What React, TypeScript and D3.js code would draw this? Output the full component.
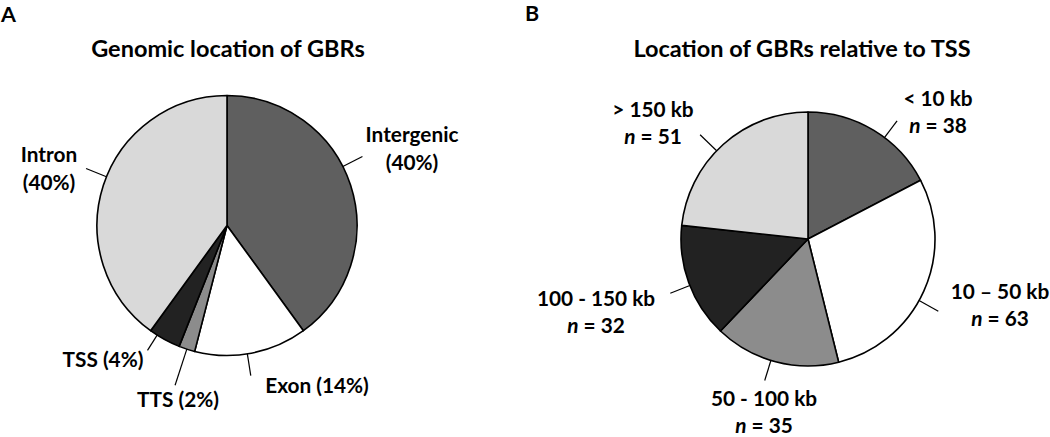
import React from 'react';
import * as d3 from 'd3';

// panel A: genomic location of GBRs (percent)
const genomicCategories = ['Intergenic', 'Exon', 'TTS', 'TSS', 'Intron'];
const genomicPercent = [40, 14, 2, 4, 40];

// panel B: location relative to TSS (counts)
const tssCategories = ['< 10 kb', '10 \u2013 50 kb', '50 - 100 kb', '100 - 150 kb', '> 150 kb'];
const tssCounts = [38, 63, 35, 32, 51];

const sliceFills = ['#5f5f5f', '#ffffff', '#8c8c8c', '#222222', '#d9d9d9'];

const FONT = 'Lato, "Open Sans", sans-serif';

// hand placed label layout (leader angle in degrees, outer radius, text centre and baseline)
const layoutA = [
  { a: 63, r2: 152, x: 412, y: 142, twoLines: true },
  { a: 171, r2: 152, x: 317, y: 393, twoLines: false },
  { a: 198, r2: 168, x: 178, y: 407, twoLines: false },
  { a: 212.5, r2: 148, x: 103, y: 367, twoLines: false },
  { a: 292, r2: 152, x: 49, y: 162, twoLines: true },
];

const layoutB = [
  { a: 37, r2: 148, x: 938, y: 106 },
  { a: 119, r2: 149, x: 1000, y: 299 },
  { a: 197, r2: 148, x: 764, y: 406 },
  { a: 248.5, r2: 148, x: 596, y: 306 },
  { a: 314, r2: 150, x: 653, y: 117 },
];

const polar = (deg: number, r: number) => {
  const t = (deg * Math.PI) / 180;
  return [r * Math.sin(t), -r * Math.cos(t)];
};

const Pie = ({ values, cx, cy, r }: { values: number[]; cx: number; cy: number; r: number }) => {
  const pie = d3.pie<number>().sort(null).value((d) => d);
  const arc = d3.arc<d3.PieArcDatum<number>>().innerRadius(0).outerRadius(r);
  return (
    <g transform={`translate(${cx},${cy})`}>
      {pie(values).map((s, i) => (
        <path key={i} d={arc(s) || ''} fill={sliceFills[i]} stroke="#000" strokeWidth={1.6} strokeLinejoin="round" />
      ))}
    </g>
  );
};

const Leader = ({ cx, cy, r, a, r2 }: { cx: number; cy: number; r: number; a: number; r2: number }) => {
  const [x1, y1] = polar(a, r);
  const [x2, y2] = polar(a, r2);
  return <line x1={cx + x1} y1={cy + y1} x2={cx + x2} y2={cy + y2} stroke="#000" strokeWidth={1.2} />;
};

export default function App() {
  const ax = 227, ay = 225.5, ar = 130;
  const bx = 808, by = 239, br = 127;
  const labelSize = 20.8;
  return (
    <svg width={1050} height={437} style={{ position: 'absolute', left: 0, top: 0, background: '#fff' }}
      fontFamily={FONT} fontWeight="bold">
      <rect width={1050} height={437} fill="#fff" />
      <text x={1} y={22} fontSize={21.5}>A</text>
      <text x={525} y={21} fontSize={21.5}>B</text>
      <text x={228} y={57} fontSize={23.5} textAnchor="middle">Genomic location of GBRs</text>
      <text x={802} y={57} fontSize={23.5} textAnchor="middle">Location of GBRs relative to TSS</text>

      <Pie values={genomicPercent} cx={ax} cy={ay} r={ar} />
      {genomicCategories.map((c, i) => {
        const l = layoutA[i];
        const pct = `(${genomicPercent[i]}%)`;
        return (
          <g key={c}>
            <Leader cx={ax} cy={ay} r={ar} a={l.a} r2={l.r2} />
            {l.twoLines ? (
              <text x={l.x} y={l.y} fontSize={labelSize} textAnchor="middle">
                <tspan x={l.x}>{c}</tspan>
                <tspan x={l.x} dy={28}>{pct}</tspan>
              </text>
            ) : (
              <text x={l.x} y={l.y} fontSize={labelSize} textAnchor="middle">{`${c} ${pct}`}</text>
            )}
          </g>
        );
      })}

      <Pie values={tssCounts} cx={bx} cy={by} r={br} />
      {tssCategories.map((c, i) => {
        const l = layoutB[i];
        return (
          <g key={c}>
            <Leader cx={bx} cy={by} r={br} a={l.a} r2={l.r2} />
            <text x={l.x} y={l.y} fontSize={labelSize} textAnchor="middle">
              <tspan x={l.x}>{c}</tspan>
              <tspan x={l.x} dy={27}>
                <tspan fontStyle="italic">n</tspan> = {tssCounts[i]}
              </tspan>
            </text>
          </g>
        );
      })}
    </svg>
  );
}
